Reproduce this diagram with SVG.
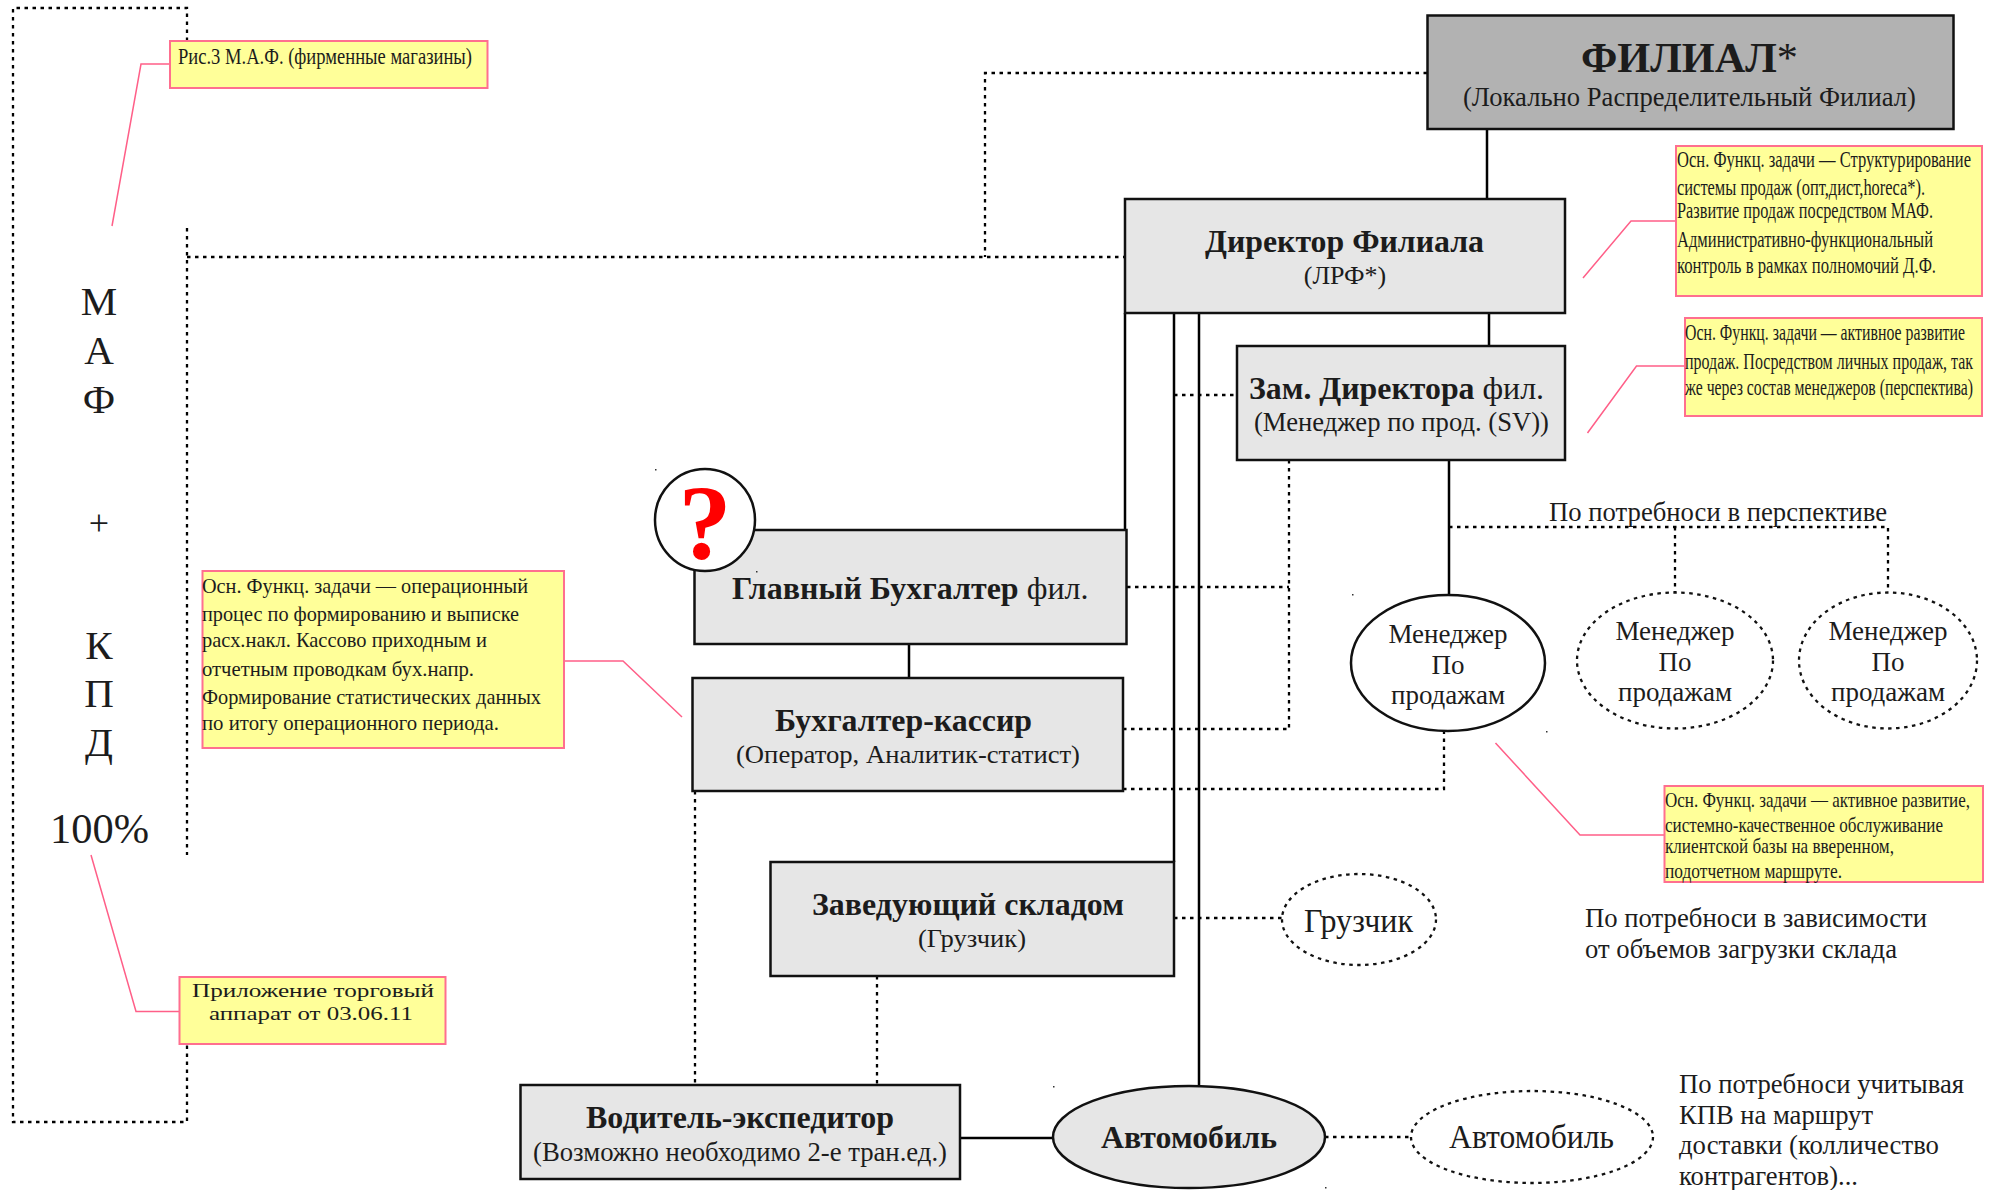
<svg xmlns="http://www.w3.org/2000/svg" width="1996" height="1190" viewBox="0 0 1996 1190">
<style>
text{font-family:"Liberation Serif","Times New Roman",serif;fill:#1c1c1c}
.box{fill:#e6e6e6;stroke:#111;stroke-width:2.5}
.el{fill:#fff;stroke:#111;stroke-width:2.5}
.eld{fill:#fff;stroke:#111;stroke-width:2.3;stroke-dasharray:3.500 4.500}
.note{fill:#ffff99;stroke:#ff6f8f;stroke-width:2}
.s{fill:none;stroke:#000;stroke-width:2.5}
.d{fill:none;stroke:#000;stroke-width:2.300;stroke-dasharray:3.500 4.500}
.l{fill:none;stroke:#ff5f88;stroke-width:1.5}
.b{font-weight:bold}
.t30{font-size:31px}
.t27{font-size:27px}
.n{font-size:23px}
.m{text-anchor:middle}
</style>
<rect width="1996" height="1190" fill="#fff"/>
<g id="connectors">
<path class="s" d="M1487 129V199M1489 313V346M1449 460V596M1125 313V530M1174 313V862M1199 313V1087M909 644V678M960 1138H1053"/>
<path class="d" d="M1427 73H985V257M187 257H1125M1174 395H1236M1289 460V729M1127 587H1289M1123 729H1289M1123 789H1444V731M1449 527H1888V592M1675 527V592M1174 918H1282M695 791V1084M877 976V1084M1325 1137H1411"/>
<path class="d" d="M187 41V8H13V1122H187V1044M187 228V855"/>
<path class="l" d="M170 64H141L112 226M1676 221H1631L1583 278M1685 366H1636.500L1587.500 433M564 661H623L682 717M1664 835H1580L1495.500 743M180 1011.500H136L91 855"/>
</g>
<g id="maf-label">
<text x="99" y="315" class="m" font-size="41">М</text>
<text x="99" y="364" class="m" font-size="41">А</text>
<text x="99" y="413" class="m" font-size="41">Ф</text>
<text x="99" y="535" class="m" font-size="36">+</text>
<text x="99" y="659" class="m" font-size="41">К</text>
<text x="99" y="707" class="m" font-size="41">П</text>
<text x="99" y="756" class="m" font-size="41">Д</text>
<text x="50" y="843" font-size="43" textLength="99" lengthAdjust="spacingAndGlyphs">100%</text>
</g>
<g id="note-ris3">
<rect class="note" x="170" y="41" width="317.500" height="47"/>
<text x="178" y="64" class="n" textLength="294" lengthAdjust="spacingAndGlyphs">Рис.3 М.А.Ф. (фирменные магазины)</text>
</g>
<g id="filial">
<rect x="1427.500" y="15.500" width="526" height="113.500" fill="#b2b2b2" stroke="#111" stroke-width="2.500"/>
<text x="1581" y="72" class="b" font-size="42" textLength="217" lengthAdjust="spacingAndGlyphs">ФИЛИАЛ<tspan font-weight="normal">*</tspan></text>
<text x="1463" y="106" class="t27" textLength="453" lengthAdjust="spacingAndGlyphs">(Локально Распределительный Филиал)</text>
</g>
<g id="director">
<rect class="box" x="1125" y="199" width="440" height="114"/>
<text x="1205" y="252" class="b t30" textLength="279" lengthAdjust="spacingAndGlyphs">Директор Филиала</text>
<text x="1345" y="284" class="m" font-size="26">(ЛРФ*)</text>
</g>
<g id="note-director">
<rect class="note" x="1676" y="146" width="306" height="150"/>
<g class="n">
<text x="1677" y="167" textLength="294" lengthAdjust="spacingAndGlyphs">Осн. Функц. задачи — Структурирование</text>
<text x="1677" y="195" textLength="248" lengthAdjust="spacingAndGlyphs">системы продаж (опт,дист,horeca*).</text>
<text x="1677" y="218" textLength="256" lengthAdjust="spacingAndGlyphs">Развитие продаж посредством МАФ.</text>
<text x="1677" y="247" textLength="256" lengthAdjust="spacingAndGlyphs">Административно-функциональный</text>
<text x="1677" y="273" textLength="259" lengthAdjust="spacingAndGlyphs">контроль в рамках полномочий Д.Ф.</text>
</g>
</g>
<g id="zam">
<rect class="box" x="1237" y="346" width="328" height="114"/>
<text x="1249" y="399" class="t30" textLength="295" lengthAdjust="spacingAndGlyphs"><tspan class="b">Зам. Директора</tspan> фил.</text>
<text x="1254" y="431" class="t27" textLength="295" lengthAdjust="spacingAndGlyphs">(Менеджер по прод. (SV))</text>
</g>
<g id="note-zam">
<rect class="note" x="1685" y="318" width="297" height="98"/>
<g class="n">
<text x="1685" y="340" textLength="280" lengthAdjust="spacingAndGlyphs">Осн. Функц. задачи — активное развитие</text>
<text x="1685" y="369" textLength="288" lengthAdjust="spacingAndGlyphs">продаж. Посредством личных продаж, так</text>
<text x="1685" y="395" textLength="288" lengthAdjust="spacingAndGlyphs">же через состав менеджеров (перспектива)</text>
</g>
</g>
<g id="glavbuh">
<rect class="box" x="694.500" y="530" width="432" height="114"/>
<text x="732" y="598.500" class="t30" textLength="356.500" lengthAdjust="spacingAndGlyphs"><tspan class="b">Главный Бухгалтер</tspan> фил.</text>
</g>
<g id="question">
<ellipse class="el" cx="705" cy="520" rx="50" ry="51"/>
<text x="705" y="559" class="m b" font-size="106" style="fill:#ff0000">?</text>
</g>
<g id="note-buh">
<rect class="note" x="202.500" y="571" width="361.500" height="177"/>
<g font-size="22">
<text x="202" y="593" textLength="326" lengthAdjust="spacingAndGlyphs">Осн. Функц. задачи — операционный</text>
<text x="202" y="621" textLength="317" lengthAdjust="spacingAndGlyphs">процес по формированию и выписке</text>
<text x="202" y="647" textLength="285" lengthAdjust="spacingAndGlyphs">расх.накл. Кассово приходным и</text>
<text x="202" y="676" textLength="272" lengthAdjust="spacingAndGlyphs">отчетным проводкам бух.напр.</text>
<text x="202" y="704" textLength="339" lengthAdjust="spacingAndGlyphs">Формирование статистических данных</text>
<text x="202" y="730" textLength="297" lengthAdjust="spacingAndGlyphs">по итогу операционного периода.</text>
</g>
</g>
<g id="kassir">
<rect class="box" x="692.500" y="678" width="430.500" height="113"/>
<text x="775" y="731" class="b t30" textLength="257" lengthAdjust="spacingAndGlyphs">Бухгалтер-кассир</text>
<text x="736" y="763" font-size="26" textLength="344" lengthAdjust="spacingAndGlyphs">(Оператор, Аналитик-статист)</text>
</g>
<g id="manager-1">
<ellipse class="el" cx="1448" cy="663" rx="97" ry="68"/>
<text x="1448" y="643" class="m t27">Менеджер</text>
<text x="1448" y="674" class="m t27">По</text>
<text x="1448" y="704" class="m t27">продажам</text>
</g>
<g id="manager-2">
<ellipse class="eld" cx="1675" cy="660.500" rx="98" ry="68"/>
<text x="1675" y="640" class="m t27">Менеджер</text>
<text x="1675" y="671" class="m t27">По</text>
<text x="1675" y="701" class="m t27">продажам</text>
</g>
<g id="manager-3">
<ellipse class="eld" cx="1888" cy="660.500" rx="89" ry="68"/>
<text x="1888" y="640" class="m t27">Менеджер</text>
<text x="1888" y="671" class="m t27">По</text>
<text x="1888" y="701" class="m t27">продажам</text>
</g>
<text x="1549" y="521" class="t27" textLength="338" lengthAdjust="spacingAndGlyphs">По потребноси в перспективе</text>
<g id="note-manager">
<rect class="note" x="1664.500" y="786" width="318.500" height="96"/>
<g font-size="22">
<text x="1665" y="807" textLength="305" lengthAdjust="spacingAndGlyphs">Осн. Функц. задачи — активное развитие,</text>
<text x="1665" y="832" textLength="278" lengthAdjust="spacingAndGlyphs">системно-качественное обслуживание</text>
<text x="1665" y="853" textLength="229" lengthAdjust="spacingAndGlyphs">клиентской базы на вверенном,</text>
<text x="1665" y="878" textLength="177" lengthAdjust="spacingAndGlyphs">подотчетном маршруте.</text>
</g>
</g>
<g id="sklad">
<rect class="box" x="770.500" y="862" width="403.500" height="114"/>
<text x="812" y="915" class="b t30" textLength="312" lengthAdjust="spacingAndGlyphs">Заведующий складом</text>
<text x="918" y="947" font-size="26" textLength="108" lengthAdjust="spacingAndGlyphs">(Грузчик)</text>
</g>
<g id="gruzchik">
<ellipse class="eld" cx="1359" cy="919.500" rx="77" ry="45.500"/>
<text x="1304" y="932" font-size="34" textLength="109" lengthAdjust="spacingAndGlyphs">Грузчик</text>
</g>
<text x="1585" y="927" class="t27" textLength="342" lengthAdjust="spacingAndGlyphs">По потребноси в зависимости</text>
<text x="1585" y="958" class="t27" textLength="312" lengthAdjust="spacingAndGlyphs">от объемов загрузки склада</text>
<g id="note-app">
<rect class="note" x="179.500" y="977" width="266" height="67"/>
<text x="192" y="997" font-size="19" textLength="242" lengthAdjust="spacingAndGlyphs">Приложение торговый</text>
<text x="209" y="1020" font-size="19" textLength="204" lengthAdjust="spacingAndGlyphs">аппарат от 03.06.11</text>
</g>
<g id="driver">
<rect class="box" x="520.500" y="1085" width="439.500" height="94"/>
<text x="586" y="1128" class="b t30" textLength="308" lengthAdjust="spacingAndGlyphs">Водитель-экспедитор</text>
<text x="533" y="1161" class="t27" textLength="414" lengthAdjust="spacingAndGlyphs">(Возможно необходимо 2-е тран.ед.)</text>
</g>
<g id="auto-main">
<ellipse class="box" cx="1189" cy="1137" rx="136" ry="51"/>
<text x="1101" y="1148" class="b t30" textLength="176" lengthAdjust="spacingAndGlyphs">Автомобиль</text>
</g>
<g id="auto-extra">
<ellipse class="eld" cx="1532" cy="1137" rx="121" ry="46"/>
<text x="1449" y="1148" font-size="34" textLength="165" lengthAdjust="spacingAndGlyphs">Автомобиль</text>
</g>
<text x="1679" y="1093" class="t27" textLength="285" lengthAdjust="spacingAndGlyphs">По потребноси учитывая</text>
<text x="1679" y="1124" class="t27" textLength="194" lengthAdjust="spacingAndGlyphs">КПВ на маршрут</text>
<text x="1679" y="1154" class="t27" textLength="260" lengthAdjust="spacingAndGlyphs">доставки (колличество</text>
<text x="1679" y="1185" class="t27" textLength="179" lengthAdjust="spacingAndGlyphs">контрагентов)...</text>
<g id="specks" fill="#333">
<rect x="655" y="469" width="1.500" height="1.500"/>
<rect x="756" y="571" width="1.500" height="1.500"/>
<rect x="1352" y="594" width="1.500" height="1.500"/>
<rect x="1546" y="731" width="1.500" height="1.500"/>
<rect x="1053" y="1086" width="1.500" height="1.500"/>
<rect x="1325" y="1187" width="1.500" height="1.500"/>
</g>
</svg>
